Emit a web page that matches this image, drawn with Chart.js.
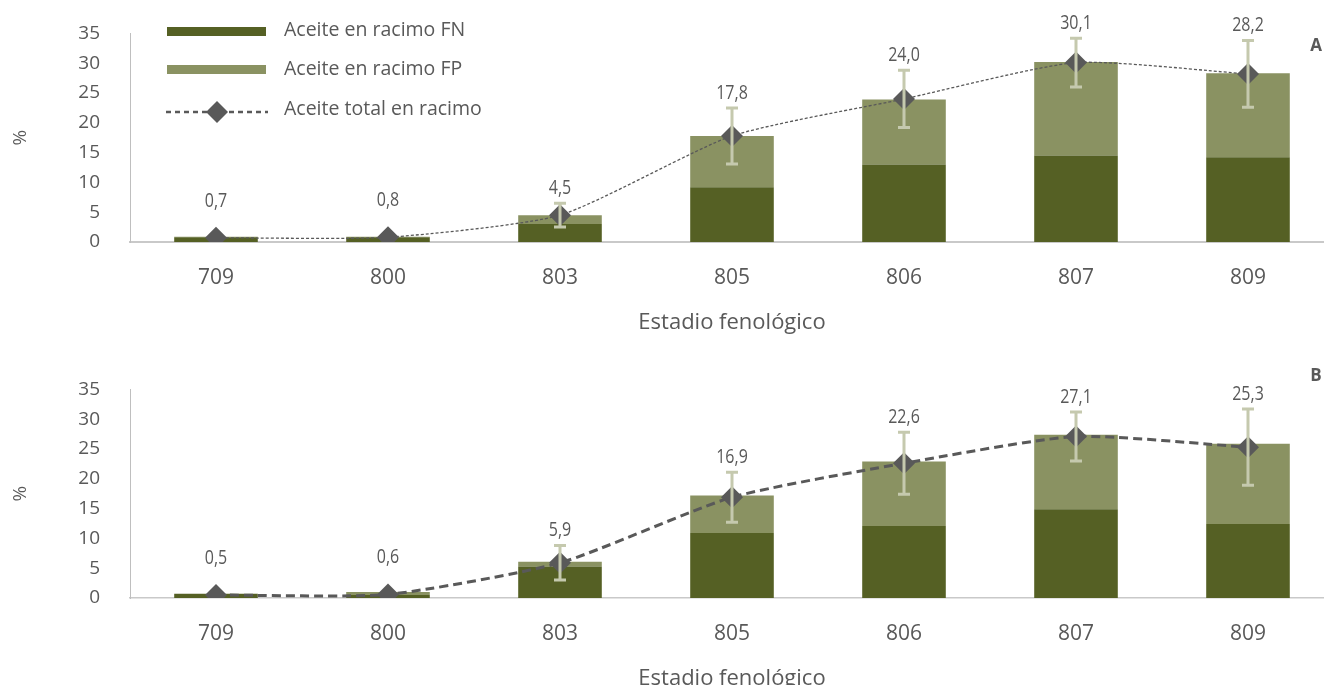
<!DOCTYPE html>
<html>
<head>
<meta charset="utf-8">
<script src="https://cdn.jsdelivr.net/npm/chart.js@4.4.1/dist/chart.umd.min.js"></script>
<style>
  html, body { margin: 0; padding: 0; background: #fff; overflow: hidden; width: 1324px; height: 685px; }
  .panel { position: absolute; left: 0; }
  #wrapA { top: -8px; }
  #wrapB { top: 348px; }
</style>
</head>
<body>
<div class="panel" id="wrapA"><canvas id="chartA" width="1345" height="350"></canvas></div>
<div class="panel" id="wrapB"><canvas id="chartB" width="1345" height="350"></canvas></div>
<script>
// estadios fenologicos
const stages = ['709', '800', '803', '805', '806', '807', '809'];
const yTicks = [0, 5, 10, 15, 20, 25, 30, 35];

// panel A
const fnA = [0.8, 0.8, 3.0, 9.2, 13.0, 14.5, 14.2];
const fpA = [0.1, 0.1, 1.5, 8.6, 10.9, 15.7, 14.1];
const totalA = [0.7, 0.8, 4.5, 17.8, 24.0, 30.1, 28.2];
const errA = [0, 0, 2.0, 4.7, 4.8, 4.1, 5.6];

// panel B
const fnB = [0.7, 0.5, 5.3, 10.9, 12.1, 14.9, 12.4];
const fpB = [0.0, 0.5, 0.8, 6.3, 10.8, 12.5, 13.5];
const totalB = [0.5, 0.6, 5.9, 16.9, 22.6, 27.1, 25.3];
const errB = [0, 0, 2.9, 4.2, 5.2, 4.1, 6.4];

const seriesNames = ['Aceite en racimo FN', 'Aceite en racimo FP', 'Aceite total en racimo'];

const colFN = '#556024';
const colFP = '#8a9262';
const colLine = '#595959';
const colErr = '#c5c9ae';
const textCol = '#595959';
const font = "'Open Sans', 'Noto Sans', sans-serif";

// error bars + value labels
const extrasPlugin = {
    id: 'extras',
    afterDatasetsDraw(chart, args, opts) {
        const ctx = chart.ctx;
        const y = chart.scales.y;
        const meta = chart.getDatasetMeta(2);
        const vals = chart.data.datasets[2].data;
        ctx.save();
        opts.errors.forEach((e, i) => {
            if (!e) return;
            const x = meta.data[i].x;
            const top = y.getPixelForValue(vals[i] + e);
            const bot = y.getPixelForValue(vals[i] - e);
            ctx.strokeStyle = colErr;
            ctx.lineWidth = 3;
            ctx.beginPath();
            ctx.moveTo(x, top); ctx.lineTo(x, bot);
            ctx.moveTo(x - 6, top); ctx.lineTo(x + 6, top);
            ctx.moveTo(x - 6, bot); ctx.lineTo(x + 6, bot);
            ctx.stroke();
        });
        ctx.fillStyle = textCol;
        ctx.font = '20px ' + font;
        ctx.textAlign = 'center';
        ctx.textBaseline = 'middle';
        vals.forEach((v, i) => {
            const x = meta.data[i].x;
            const e = opts.errors[i];
            const ly = e ? y.getPixelForValue(v + e) - 15 : y.getPixelForValue(v) - 37;
            // narrow look like the original labels
            ctx.save();
            ctx.translate(x, ly);
            ctx.scale(0.8, 1);
            ctx.fillText(v.toFixed(1).replace('.', ','), 0, 0);
            ctx.restore();
        });
        // panel letter
        ctx.font = 'bold 17px ' + font;
        ctx.fillText(opts.letter, 1316, opts.letterY);
        ctx.restore();
    }
};

const legendPlugin = {
    id: 'boxLegend',
    afterDraw(chart, args, opts) {
        if (!opts.show) return;
        const ctx = chart.ctx;
        const ds = chart.data.datasets;
        ctx.save();
        ctx.translate(0, 8);
        ctx.font = '19.5px ' + font;
        ctx.textBaseline = 'middle';
        ctx.textAlign = 'left';
        ctx.fillStyle = ds[0].backgroundColor;
        ctx.fillRect(167, 27, 99, 9);
        ctx.fillStyle = ds[1].backgroundColor;
        ctx.fillRect(167, 65, 99, 9);
        ctx.strokeStyle = colLine;
        ctx.lineWidth = 2.5;
        ctx.setLineDash([5, 4]);
        ctx.beginPath();
        ctx.moveTo(166, 112); ctx.lineTo(268, 112);
        ctx.stroke();
        ctx.setLineDash([]);
        ctx.fillStyle = colLine;
        ctx.beginPath();
        ctx.moveTo(217, 101); ctx.lineTo(228, 112); ctx.lineTo(217, 123); ctx.lineTo(206, 112);
        ctx.closePath();
        ctx.fill();
        ctx.fillStyle = textCol;
        ctx.fillText(ds[0].label, 284, 30);
        ctx.fillText(ds[1].label, 284, 69);
        ctx.fillText(ds[2].label, 284, 109);
        ctx.restore();
    }
};

function makeChart(id, fn, fp, total, err, letter, letterY, lineW, dash, xBorder, showLegend) {
    return new Chart(document.getElementById(id), {
        type: 'bar',
        data: {
            labels: stages,
            datasets: [{
                label: seriesNames[0],
                data: fn,
                backgroundColor: colFN,
                stack: 'bars',
                order: 1
            }, {
                label: seriesNames[1],
                data: fp,
                backgroundColor: colFP,
                stack: 'bars',
                order: 1
            }, {
                type: 'line',
                label: seriesNames[2],
                data: total,
                stack: 'total',
                order: 0,
                borderColor: colLine,
                borderWidth: lineW,
                borderDash: dash,
                tension: 0.2,
                fill: false,
                pointStyle: 'rectRot',
                pointRadius: 11,
                pointBackgroundColor: colLine,
                pointBorderWidth: 0
            }]
        },
        options: {
            responsive: false,
            animation: false,
            devicePixelRatio: 1,
            barPercentage: 0.486,
            categoryPercentage: 1,
            layout: { padding: { top: 24, right: 6, left: 0, bottom: 0 } },
            scales: {
                x: {
                    stacked: true,
                    grid: { display: false, drawTicks: false },
                    border: { color: '#c9c9c9', width: xBorder },
                    ticks: { color: textCol, font: { family: font, size: 21 }, padding: 23 },
                    title: { display: true, text: 'Estadio fenológico', color: textCol,
                             font: { family: font, size: 22 }, padding: { top: 0, bottom: 6 } },
                    afterFit: s => { s.height = 100; }
                },
                y: {
                    stacked: true,
                    min: 0,
                    max: 35,
                    afterBuildTicks: s => { s.ticks = yTicks.map(v => ({ value: v })); },
                    grid: { display: false, drawTicks: false },
                    border: { color: '#bfbfbf', width: 1 },
                    ticks: { color: textCol, font: { family: font, size: 19 }, padding: 30 },
                    title: { display: true, text: '%', color: textCol,
                             font: { family: font, size: 19 }, padding: { top: 9, bottom: 0 } },
                    afterFit: s => { s.width = 130; }
                }
            },
            plugins: {
                legend: { display: false },
                tooltip: { enabled: false },
                extras: { errors: err, letter: letter, letterY: letterY },
                boxLegend: { show: showLegend }
            }
        },
        plugins: [extrasPlugin, legendPlugin]
    });
}

makeChart('chartA', fnA, fpA, totalA, errA, 'A', 54, 1.3, [3, 2], 2, true);
makeChart('chartB', fnB, fpB, totalB, errB, 'B', 28, 3, [9, 5], 1.5, false);
</script>
</body>
</html>
